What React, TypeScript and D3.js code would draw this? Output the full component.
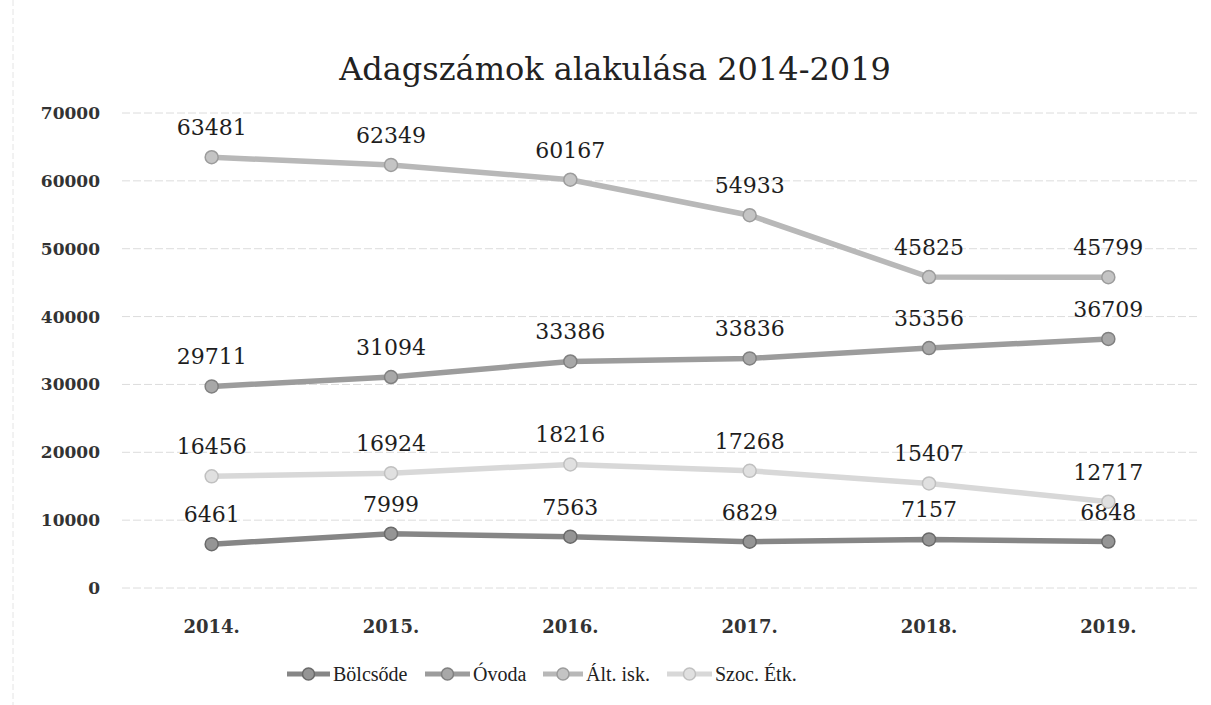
import React from "react";
import * as d3 from "d3";

const years = ["2014.", "2015.", "2016.", "2017.", "2018.", "2019."];
const bolcsode = [6461, 7999, 7563, 6829, 7157, 6848];
const ovoda = [29711, 31094, 33386, 33836, 35356, 36709];
const altIsk = [63481, 62349, 60167, 54933, 45825, 45799];
const szocEtk = [16456, 16924, 18216, 17268, 15407, 12717];
const yTicks = [0, 10000, 20000, 30000, 40000, 50000, 60000, 70000];

const series = [
  { name: "Bölcsőde", values: bolcsode, color: "#868686", stroke: "#6a6a6a", fill: "#959595" },
  { name: "Óvoda", values: ovoda, color: "#9c9c9c", stroke: "#808080", fill: "#a8a8a8" },
  { name: "Ált. isk.", values: altIsk, color: "#b8b8b8", stroke: "#9c9c9c", fill: "#c4c4c4" },
  { name: "Szoc. Étk.", values: szocEtk, color: "#d8d8d8", stroke: "#c0c0c0", fill: "#e0e0e0" },
];

const font = "'DejaVu Serif', 'Liberation Serif', serif";
const font2 = "'Liberation Serif', serif";

export default function App() {
  const W = 1211, H = 705;
  const x = d3.scalePoint<string>().domain(years).range([122, 1198]).padding(0.5);
  const y = d3.scaleLinear().domain([0, 70000]).range([588, 113]);
  const line = d3.line<number>().x((_, i) => x(years[i])!).y((d) => y(d));

  const legendItems = [
    { lx: 287, lx2: 330, tx: 333 },
    { lx: 425, lx2: 470, tx: 473 },
    { lx: 543, lx2: 583, tx: 586 },
    { lx: 667, lx2: 712, tx: 715 },
  ];

  return (
    <svg width={W} height={H} style={{ position: "absolute", left: 0, top: 0, background: "#fff" }}>
      <rect x={0} y={0} width={W} height={H} fill="#fff" />
      <line x1={13} x2={13} y1={0} y2={H} stroke="#e4e4e4" strokeWidth={1} strokeDasharray="6 3" />
      <text x={615} y={80} textAnchor="middle" fontFamily={font} fontSize={32} fill="#222">
        Adagszámok alakulása 2014-2019
      </text>
      {yTicks.map((t) => (
        <g key={t}>
          <line x1={122} x2={1198} y1={y(t)} y2={y(t)} stroke="#dcdcdc" strokeWidth={1} strokeDasharray="8 3" />
          <text x={100} y={y(t) + 6} textAnchor="end" fontFamily={font} fontSize={17} fontWeight="bold" fill="#333">
            {t}
          </text>
        </g>
      ))}
      {years.map((yr) => (
        <text key={yr} x={x(yr)!} y={633} textAnchor="middle" fontFamily={font} fontSize={18} fontWeight="bold" fill="#333">
          {yr}
        </text>
      ))}
      {series.map((s) => (
        <g key={s.name}>
          <path d={line(s.values) ?? ""} fill="none" stroke={s.color} strokeWidth={5.5} />
          {s.values.map((v, i) => (
            <circle key={i} cx={x(years[i])!} cy={y(v)} r={6.5} fill={s.fill} stroke={s.stroke} strokeWidth={1.5} />
          ))}
          {s.values.map((v, i) => (
            <text key={"t" + i} x={x(years[i])!} y={y(v) - 22} textAnchor="middle" fontFamily={font} fontSize={22} fill="#1e1e1e">
              {v}
            </text>
          ))}
        </g>
      ))}
      {series.map((s, k) => (
        <g key={"lg" + s.name}>
          <line x1={legendItems[k].lx} x2={legendItems[k].lx2} y1={674} y2={674} stroke={s.color} strokeWidth={5} />
          <circle cx={(legendItems[k].lx + legendItems[k].lx2) / 2} cy={674} r={6} fill={s.fill} stroke={s.stroke} strokeWidth={1.5} />
          <text x={legendItems[k].tx} y={681} fontFamily={font2} fontSize={20} fill="#222">
            {s.name}
          </text>
        </g>
      ))}
    </svg>
  );
}
